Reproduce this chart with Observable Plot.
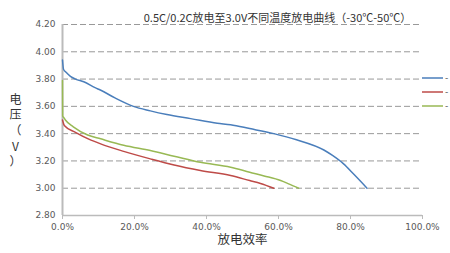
<!DOCTYPE html>
<html><head><meta charset="utf-8">
<script src="https://cdn.jsdelivr.net/npm/d3@7"></script>
<script src="https://cdn.jsdelivr.net/npm/@observablehq/plot@0.6"></script>
<style>
body{margin:0;background:#fff;}
#wrap{position:relative;width:450px;height:253px;overflow:hidden;}
#legend{position:absolute;left:0;top:0;}
</style></head>
<body><div id="wrap"></div>
<script>
const title = "0.5C/0.2C放电至3.0V不同温度放电曲线（-30℃-50℃）";
const yLabel = "电\n压\n（\nV\n）";
const xLabel = "放电效率";
const seriesNames = ["-", "-", "-"];
const seriesColors = ["#4a7ebb", "#be4b48", "#98b954"];
const xTicks = [0, 20, 40, 60, 80, 100];
const yTicks = [2.8, 3.0, 3.2, 3.4, 3.6, 3.8, 4.0, 4.2];
const gridTicks = [3.0, 3.2, 3.4, 3.6, 3.8, 4.0, 4.2];

const bluePct = [0, 0.3, 1, 2.2, 3.6, 5.9, 9.2, 10.5, 14.7, 19.7, 24.4, 29, 35.6, 43, 46.7, 52, 58.7, 65, 72.6, 75, 78, 81, 84.6];
const blueV   = [3.94, 3.87, 3.85, 3.82, 3.80, 3.78, 3.735, 3.72, 3.66, 3.60, 3.567, 3.54, 3.51, 3.476, 3.465, 3.437, 3.40, 3.355, 3.28, 3.24, 3.18, 3.10, 3.00];
const redPct  = [0, 0.5, 3.6, 7.3, 10.6, 17, 24.4, 31, 38.3, 46.7, 52, 55, 58.7];
const redV    = [3.50, 3.46, 3.41, 3.36, 3.325, 3.27, 3.215, 3.17, 3.13, 3.093, 3.056, 3.035, 3.00];
const greenPct = [0, 0.05, 0.3, 0.8, 3, 7, 10.6, 17, 24.4, 31, 38.3, 46.7, 52, 56, 60.6, 63, 65.6];
const greenV   = [3.79, 3.53, 3.52, 3.50, 3.45, 3.39, 3.362, 3.315, 3.276, 3.235, 3.19, 3.154, 3.117, 3.09, 3.056, 3.03, 3.00];

const series = [[bluePct, blueV], [redPct, redV], [greenPct, greenV]];
const data = series.flatMap(([xs, ys], i) => xs.map((x, j) => ({s: i, x, y: ys[j]})));

const font = "'DejaVu Sans','Noto Sans CJK SC',sans-serif";
const cjk = "'Noto Sans CJK SC',sans-serif";

const chart = Plot.plot({
  width: 450, height: 253,
  marginLeft: 62, marginRight: 28, marginTop: 24, marginBottom: 38,
  style: {fontFamily: font, fontSize: "9px", color: "#595959", background: "white", overflow: "visible"},
  x: {domain: [0, 100], ticks: xTicks, tickFormat: d => d.toFixed(1) + "%"},
  y: {domain: [2.8, 4.2], ticks: yTicks, tickFormat: d => d.toFixed(2)},
  marks: [
    Plot.ruleY(gridTicks, {stroke: "#999", strokeWidth: 1, strokeDasharray: "6,3"}),
    Plot.ruleY([2.8], {stroke: "#bbb", strokeWidth: 1.5}),
    Plot.ruleX([0], {stroke: "#bbb", strokeWidth: 2}),
    Plot.axisY({ticks: yTicks, tickSize: 0, tickPadding: 7, label: null, tickFormat: d => d.toFixed(2)}),
    Plot.axisX({ticks: xTicks, tickSize: 4, tickPadding: 4, label: null, stroke: "#bbb", tickFormat: d => d.toFixed(1) + "%"}),
    Plot.line(data, {x: "x", y: "y", z: "s", stroke: d => seriesColors[d.s], strokeWidth: 1.5, curve: "monotone-x"}),
    Plot.text([title], {frameAnchor: "top", dx: 35, dy: -10, fontSize: 11, fontFamily: cjk, fill: "#333"}),
    Plot.text([yLabel], {frameAnchor: "left", textAnchor: "middle", dx: -47, dy: 10, fontSize: 12, fontFamily: cjk, lineHeight: 1.3, fill: "#333"}),
    Plot.text([xLabel], {frameAnchor: "bottom", dy: 28, fontSize: 12.5, fontFamily: cjk, fill: "#333"})
  ]
});
const wrap = document.getElementById("wrap");
wrap.appendChild(chart);

// legend (right edge, truncated like the original)
const ns = "http://www.w3.org/2000/svg";
const leg = document.createElementNS(ns, "svg");
leg.setAttribute("id", "legend");
leg.setAttribute("width", 450); leg.setAttribute("height", 253);
const legY = [78, 92, 106];
seriesNames.forEach((name, i) => {
  const l = document.createElementNS(ns, "line");
  l.setAttribute("x1", 422); l.setAttribute("x2", 443);
  l.setAttribute("y1", legY[i]); l.setAttribute("y2", legY[i]);
  l.setAttribute("stroke", seriesColors[i]); l.setAttribute("stroke-width", 1.5);
  leg.appendChild(l);
  const t = document.createElementNS(ns, "text");
  t.setAttribute("x", 445); t.setAttribute("y", legY[i]); t.setAttribute("dy", "0.35em");
  t.setAttribute("font-size", 9); t.setAttribute("font-family", font); t.setAttribute("fill", "#595959");
  t.textContent = name;
  leg.appendChild(t);
});
wrap.appendChild(leg);
</script></body></html>
